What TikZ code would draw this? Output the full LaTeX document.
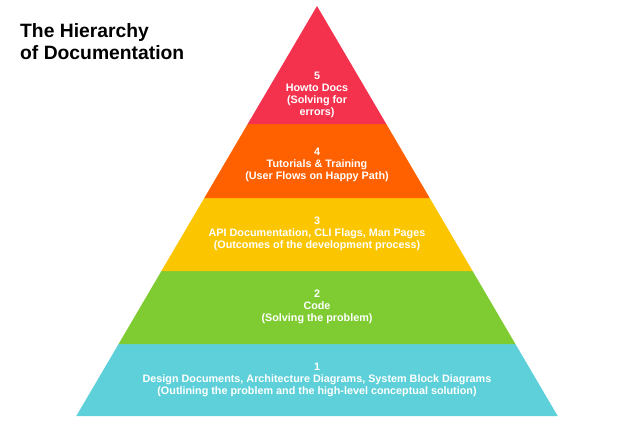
\documentclass[tikz,border=0pt]{standalone}
\usepackage{fontspec}
\setmainfont{Liberation Sans}
\usepackage{tikz}
\usetikzlibrary{positioning}
\definecolor{tiptop}{HTML}{F5324E}
\definecolor{tutor}{HTML}{FF6100}
\definecolor{apidoc}{HTML}{FBC500}
\definecolor{codegreen}{HTML}{7ECC31}
\definecolor{design}{HTML}{5DD0D9}

\begin{document}
\begin{tikzpicture}[
      x=1pt, y=-1pt,
      band/.style={draw=none},
      lbl/.style={text=white, align=center, inner sep=0pt,
                  font=\fontsize{10.8}{11.8}\selectfont\bfseries},
      ttl/.style={anchor=north west, align=left, inner sep=0pt,
                  font=\fontsize{19.3}{22}\selectfont\bfseries}
    ]
    \useasboundingbox (0,0) rectangle (639,432);

    % Bands, bottom to top
    \fill[band, design] (76.3,416) -- (557.7,416) -- (515.4,344) -- (118.6,344) -- cycle;
    \fill[band, codegreen] (118.6,344) -- (515.4,344) -- (472.6,271) -- (161.4,271) -- cycle;
    \fill[band, apidoc] (161.4,271) -- (472.6,271) -- (429.7,198) -- (204.3,198) -- cycle;
    \fill[band, tutor] (204.3,198) -- (429.7,198) -- (386.3,124) -- (247.7,124) -- cycle;
    \fill[band, tiptop] (247.7,124) -- (386.3,124) -- (317,6) -- cycle;

    % Title
    \node[ttl] (title) at (20,23) {The Hierarchy\\of Documentation};

    % Labels
    \node[lbl] (howto) at (317,95) {5\\Howto Docs\\(Solving for\\errors)};
    \node[lbl] (tutorials) at (317,165) {4\\Tutorials \& Training\\(User Flows on Happy Path)};
    \node[lbl] (api) at (317,234) {3\\API Documentation, CLI Flags, Man Pages\\(Outcomes of the development process)};
    \node[lbl] (code) at (317,307) {2\\Code\\(Solving the problem)};
    \node[lbl] (designdocs) at (317,380) {1\\Design Documents, Architecture Diagrams, System Block Diagrams\\(Outlining the problem and the high-level conceptual solution)};
  \end{tikzpicture}
\end{document}
